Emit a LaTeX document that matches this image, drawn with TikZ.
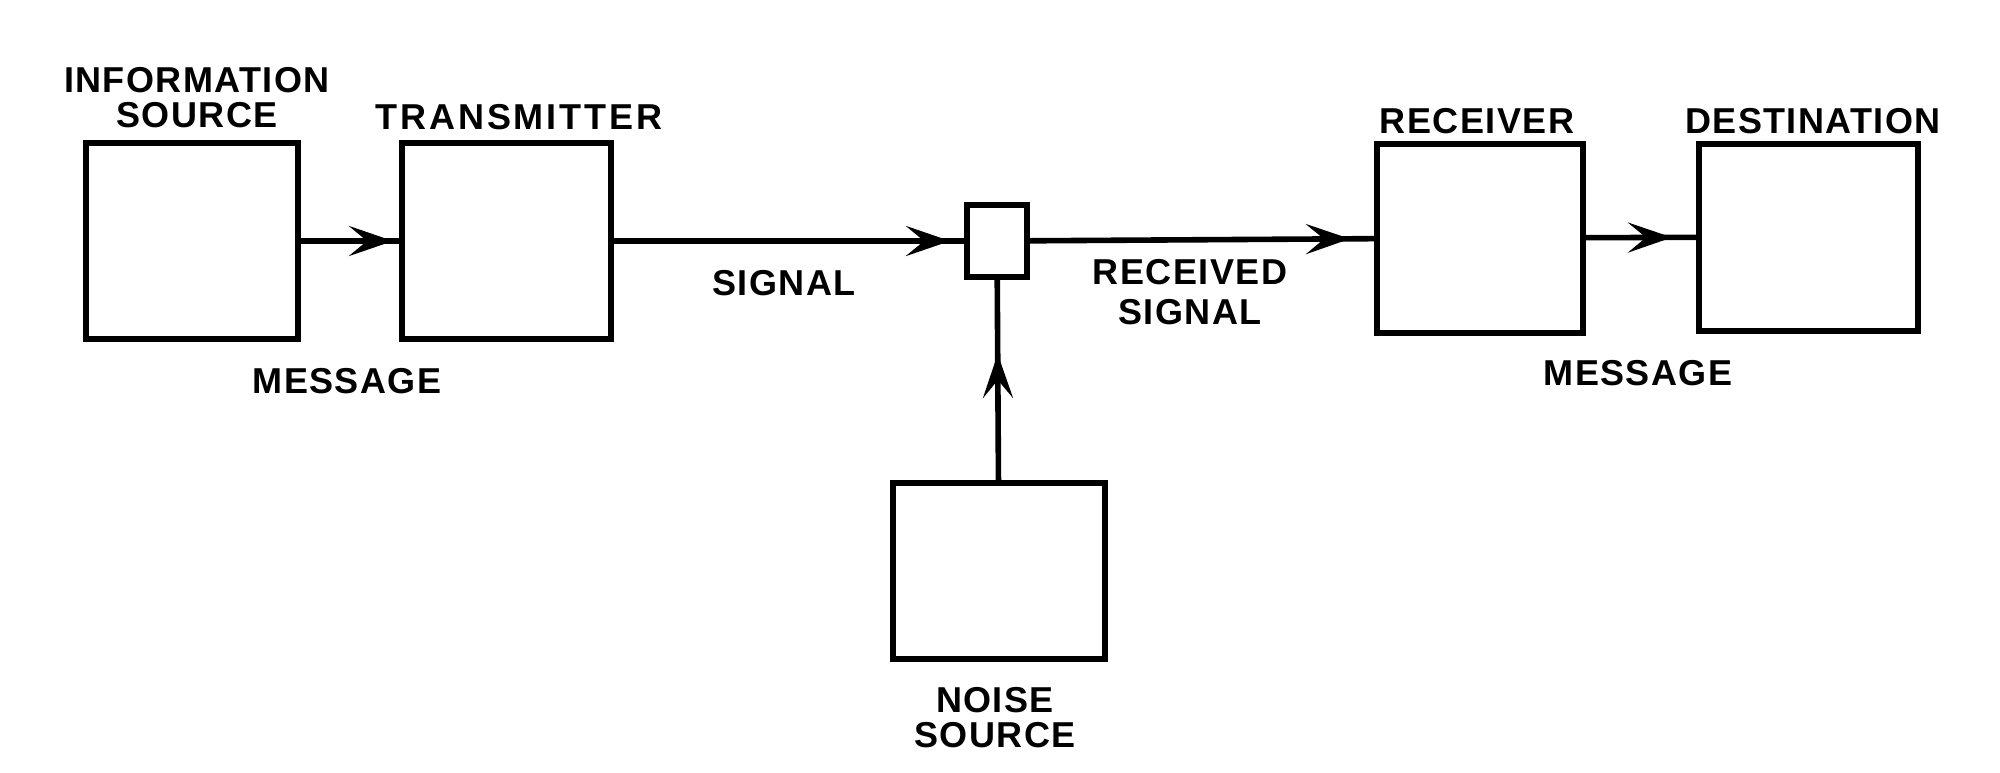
\documentclass[tikz,border=0pt]{standalone}
\usepackage{fontspec}
\setmainfont[LetterSpace=4]{Liberation Sans}
\usetikzlibrary{arrows.meta,decorations.markings}
\tikzset{
  blk/.style={draw, line width=3pt, inner sep=0pt},
  lbl/.style={font=\fontsize{18}{17.5}\selectfont\bfseries, inner sep=0pt, align=center},
  wire/.style={line width=2.8pt},
  tipat/.style={postaction={decorate}, decoration={markings,
      mark=at position -#1 with {\arrow{Stealth[length=22pt,width=15pt,inset=9pt]}}}}
}
\begin{document}
\begin{tikzpicture}[x=0.5pt,y=-0.5pt]
\fill[white] (0,0) rectangle (2000,772);
\useasboundingbox (0,0) rectangle (2000,772);
% boxes
\node[blk, minimum width=106pt, minimum height=98pt] (info) at (192,241) {};
\node[blk, minimum width=104.5pt, minimum height=98pt] (trans) at (506.5,241) {};
\node[blk, minimum width=30pt, minimum height=36pt] (mix) at (997,241) {};
\node[blk, minimum width=103pt, minimum height=94.5pt] (recv) at (1480,238) {};
\node[blk, minimum width=109.5pt, minimum height=93.5pt] (dest) at (1808.5,237) {};
\node[blk, minimum width=106pt, minimum height=88pt] (noise) at (999,571) {};
% labels
\node[lbl] (linfo) at (197,97.5) {INFORMATION\\SOURCE};
\node[lbl] (ltrans) at (519,117.5) {\addfontfeature{LetterSpace=8}TRANSMITTER};
\node[lbl] (lmsg1) at (347,381) {MESSAGE};
\node[lbl] (lsig) at (784,283) {SIGNAL};
\node[lbl, font=\fontsize{18}{20}\selectfont\bfseries] (lrsig) at (1190,292.5) {RECEIVED\\SIGNAL};
\node[lbl] (lrecv) at (1477,121) {RECEIVER};
\node[lbl] (ldest) at (1813,121) {DESTINATION};
\node[lbl] (lmsg2) at (1638,373) {MESSAGE};
\node[lbl] (lnoise) at (995,717.5) {NOISE\\SOURCE};
% connectors
\draw[wire,tipat=3pt] (info) -- (trans);
\draw[wire,tipat=7pt] (trans) -- (mix);
\draw[wire,tipat=12pt] (mix) -- (recv);
\draw[wire,tipat=12pt] (recv) -- (dest);
\draw[wire,tipat=37pt] (noise) -- (mix);
\end{tikzpicture}
\end{document}
